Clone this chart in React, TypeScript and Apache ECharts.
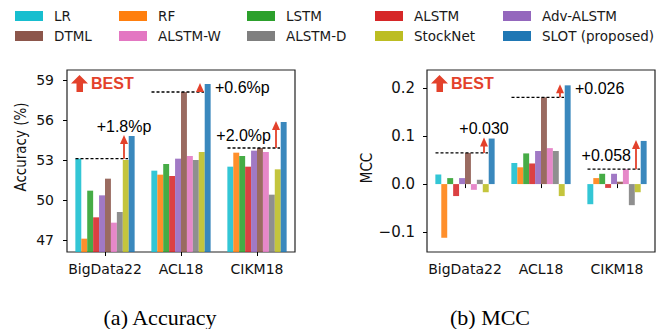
import React, { useEffect, useRef } from "react";
import * as echarts from "echarts";

const categories = ["BigData22", "ACL18", "CIKM18"];
const models = ["LR", "RF", "LSTM", "ALSTM", "Adv-ALSTM", "DTML", "ALSTM-W", "ALSTM-D", "StockNet", "SLOT (proposed)"];
const colors = ["#17becf", "#ff7f0e", "#2ca02c", "#d62728", "#9467bd", "#8c564b", "#e377c2", "#7f7f7f", "#bcbd22", "#1f77b4"];

// Accuracy (%) per model, order: BigData22, ACL18, CIKM18
const accLR = [53.1, 52.2, 52.5];
const accRF = [47.1, 51.9, 53.55];
const accLSTM = [50.7, 52.7, 53.3];
const accALSTM = [48.7, 51.8, 52.5];
const accAdv = [50.35, 53.1, 53.7];
const accDTML = [51.6, 58.1, 53.9];
const accALSTMW = [48.3, 53.3, 53.6];
const accALSTMD = [49.1, 53.0, 50.4];
const accStockNet = [53.0, 53.6, 52.3];
const accSLOT = [54.8, 58.7, 55.85];

// MCC per model
const mccLR = [0.02, 0.044, -0.042];
const mccRF = [-0.112, 0.035, 0.0125];
const mccLSTM = [0.0125, 0.064, 0.0215];
const mccALSTM = [-0.025, 0.043, -0.008];
const mccAdv = [0.0125, 0.069, 0.0215];
const mccDTML = [0.065, 0.181, 0.005];
const mccALSTMW = [-0.012, 0.075, 0.031];
const mccALSTMD = [0.009, 0.069, -0.044];
const mccStockNet = [-0.017, -0.025, -0.017];
const mccSLOT = [0.095, 0.206, 0.09];

const accTicks = [47, 50, 53, 56, 59];
const mccTicks = [-0.1, 0, 0.1, 0.2];

const accGain = ["+1.8%p", "+0.6%p", "+2.0%p"];
const mccGain = ["+0.030", "+0.026", "+0.058"];
const gainPlacement = ["above", "right", "left"];

const accData = [accLR, accRF, accLSTM, accALSTM, accAdv, accDTML, accALSTMW, accALSTMD, accStockNet, accSLOT];
const mccData = [mccLR, mccRF, mccLSTM, mccALSTM, mccAdv, mccDTML, mccALSTMW, mccALSTMD, mccStockNet, mccSLOT];

const SANS = "DejaVu Sans";
const ARIAL = "Liberation Sans";
const RED = "#e3412b";

const grids = [
  { left: 67, top: 70, width: 228, height: 182 },
  { left: 427, top: 70, width: 228, height: 182 },
];

export default function App() {
  const ref = useRef<HTMLDivElement>(null);

  useEffect(() => {
    document.body.style.margin = "0";
    const chart = echarts.init(ref.current!, null, { renderer: "svg" });

    const legendX = [15, 119, 247, 375, 503];
    const legendY = [16, 36];
    const legends = models.map((m, i) => ({
      data: [m],
      left: legendX[i % 5],
      top: legendY[Math.floor(i / 5)] - 7,
      padding: 0,
      icon: "rect",
      itemWidth: 28,
      itemHeight: 10,
      selectedMode: false,
      itemStyle: { opacity: 1, borderWidth: 0 },
      textStyle: { fontSize: 13.5, fontFamily: SANS, color: "#1a1a1a", padding: [0, 0, 0, 6], lineHeight: 14 },
    }));

    const series: any[] = [];
    models.forEach((m, i) => {
      [accData[i], mccData[i]].forEach((d, g) => {
        series.push({
          type: "bar",
          name: m,
          xAxisIndex: g,
          yAxisIndex: g,
          data: d,
          clip: true,
          barGap: "0%",
          barCategoryGap: "22%",
          itemStyle: { color: colors[i], opacity: 0.88 },
        });
      });
    });

    const xAxes = grids.map((_, g) => ({
      type: "category",
      gridIndex: g,
      data: categories,
      axisLine: { show: false },
      axisTick: { show: true, alignWithLabel: true, length: 4, lineStyle: { color: "#000", width: 1 } },
      axisLabel: { interval: 0, fontSize: 14, fontFamily: SANS, color: "#111", margin: 10 },
    }));

    const yAxes = [
      {
        type: "value",
        gridIndex: 0,
        min: 46.1,
        max: 59.75,
        splitLine: { show: false },
        axisLine: { show: false },
        axisTick: { show: true, length: 4, customValues: accTicks, lineStyle: { color: "#000" } },
        axisLabel: { customValues: accTicks, fontSize: 14, fontFamily: SANS, color: "#111", margin: 13 },
      },
      {
        type: "value",
        gridIndex: 1,
        min: -0.1417,
        max: 0.238,
        splitLine: { show: false },
        axisLine: { show: false },
        axisTick: { show: true, length: 4, customValues: mccTicks, lineStyle: { color: "#000" } },
        axisLabel: {
          customValues: mccTicks,
          fontSize: 15,
          fontFamily: SANS,
          color: "#111",
          margin: 12,
          formatter: (v: number) => (v < 0 ? "\u2212" + Math.abs(v).toFixed(1) : v.toFixed(1)),
        },
      },
    ];

    chart.setOption({
      animation: false,
      backgroundColor: "#fff",
      legend: legends,
      grid: grids.map((g) => ({ ...g, show: true, borderColor: "#222", borderWidth: 1.2, backgroundColor: "transparent" })),
      xAxis: xAxes,
      yAxis: yAxes,
      series,
    });

    // Annotations positioned via the chart's own scales
    const graphics: any[] = [];
    const dataSets = [accData, mccData];
    const gains = [accGain, mccGain];
    grids.forEach((gr, g) => {
      const data = dataSets[g];
      categories.forEach((cat, c) => {
        const cx = chart.convertToPixel({ xAxisIndex: g } as any, cat) as number;
        let best = -Infinity;
        for (let i = 0; i < data.length - 1; i++) best = Math.max(best, data[i][c]);
        const slot = data[data.length - 1][c];
        const yb = chart.convertToPixel({ yAxisIndex: g } as any, best) as number;
        const ys = chart.convertToPixel({ yAxisIndex: g } as any, slot) as number;
        graphics.push({
          type: "line",
          z: 20,
          shape: { x1: cx - 29.5, y1: yb, x2: cx + 23, y2: yb },
          style: { stroke: "#000", lineWidth: 1.3, lineDash: [3, 2] },
        });
        const ax = cx + 19;
        if (yb - (ys + 8) > 0) {
          graphics.push({
            type: "line",
            z: 21,
            shape: { x1: ax, y1: yb, x2: ax, y2: ys + 7 },
            style: { stroke: RED, lineWidth: 1.8 },
          });
        }
        graphics.push({
          type: "polygon",
          z: 21,
          shape: { points: [[ax, ys - 1], [ax + 4, ys + 8], [ax - 4, ys + 8]] },
          style: { fill: RED },
        });
        const pl = gainPlacement[c];
        let tx = ax, ty = ys - 10, align = "center";
        if (pl === "right") { tx = cx + 34; ty = ys + 3; align = "left"; }
        if (pl === "left") { tx = cx + 14; ty = (yb + ys) / 2; align = "right"; }
        graphics.push({
          type: "text",
          z: 22,
          x: tx,
          y: ty,
          style: { text: gains[g][c], fontSize: 16, fontFamily: ARIAL, fill: "#000", align, verticalAlign: "middle" },
        });
      });
      // BEST marker
      const L = gr.left, T = gr.top;
      graphics.push({
        type: "polygon",
        z: 22,
        shape: { points: [[L + 12.5, T + 5], [L + 21, T + 13.5], [L + 16, T + 13.5], [L + 16, T + 22], [L + 9.5, T + 22], [L + 9.5, T + 13.5], [L + 4, T + 13.5]] },
        style: { fill: RED },
      });
      graphics.push({
        type: "text",
        z: 22,
        x: L + 24,
        y: T + 13.5,
        style: { text: "BEST", fontSize: 16, fontWeight: "bold", fontFamily: ARIAL, fill: RED, align: "left", verticalAlign: "middle" },
      });
    });

    graphics.push({
      type: "text", x: 21, y: 147, rotation: Math.PI / 2, scaleY: 1.15,
      style: { text: "Accuracy (%)", fontSize: 13.5, fontFamily: SANS, fill: "#111", align: "center", verticalAlign: "middle" },
    });
    graphics.push({
      type: "text", x: 367, y: 168, rotation: Math.PI / 2, scaleY: 1.15,
      style: { text: "MCC", fontSize: 13.5, fontFamily: SANS, fill: "#111", align: "center", verticalAlign: "middle" },
    });
    graphics.push({
      type: "text", x: 160, y: 318, scaleX: 1.1,
      style: { text: "(a) Accuracy", fontSize: 20, fontFamily: "Liberation Serif", fill: "#000", align: "center", verticalAlign: "middle" },
    });
    graphics.push({
      type: "text", x: 490, y: 318, scaleX: 1.1,
      style: { text: "(b) MCC", fontSize: 20, fontFamily: "Liberation Serif", fill: "#000", align: "center", verticalAlign: "middle" },
    });

    chart.setOption({ graphic: graphics });

    return () => chart.dispose();
  }, []);

  return <div ref={ref} style={{ width: 663, height: 329 }} />;
}
